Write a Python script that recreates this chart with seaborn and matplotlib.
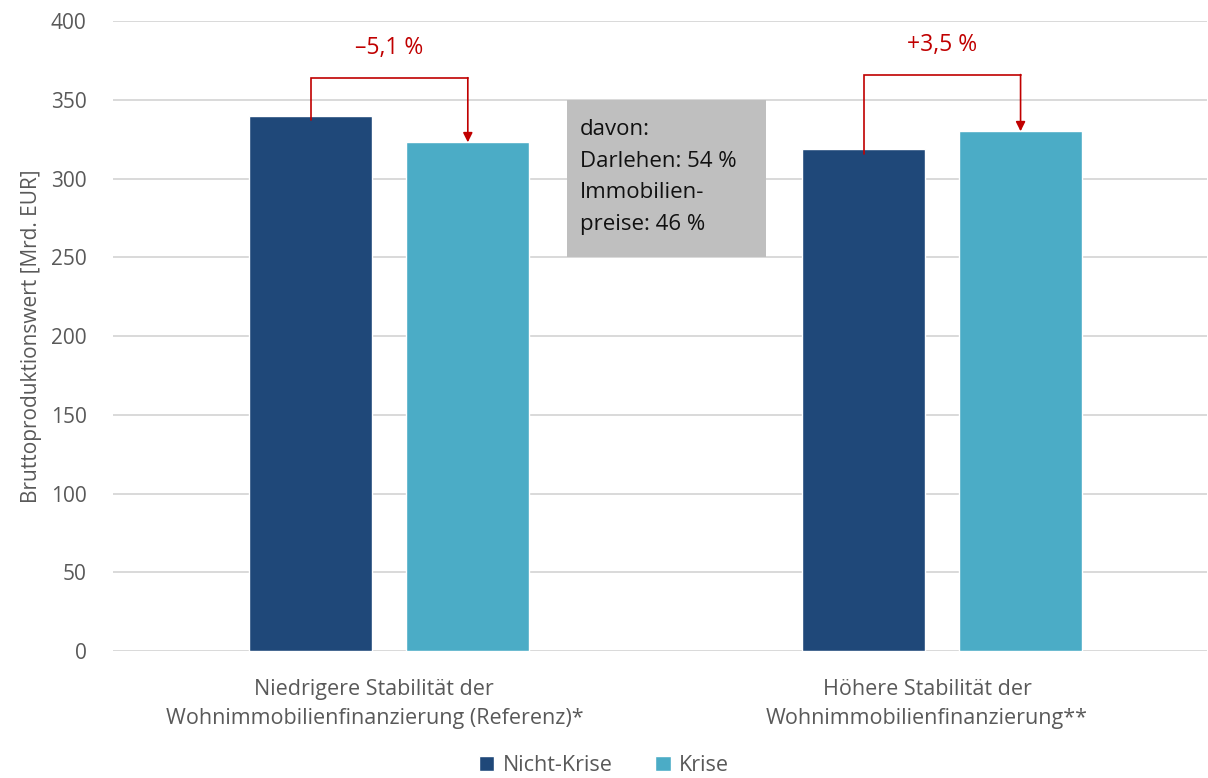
"""Bruttoproduktionswert: Nicht-Krise vs. Krise, grouped bars with change brackets."""
import matplotlib
matplotlib.use("Agg")
import matplotlib.pyplot as plt
import matplotlib.transforms as mtransforms
from matplotlib.patches import Patch, Rectangle
import pandas as pd
import seaborn as sns

# -- Data ----------------------------------------------------------------------
categories = [
    "Niedrigere Stabilität der\nWohnimmobilienfinanzierung (Referenz)*",
    "Höhere Stabilität der\nWohnimmobilienfinanzierung**",
]
series = ["Nicht-Krise", "Krise"]
nicht_krise = [340.0, 318.5]
krise = [323.0, 330.0]
changes = ["–5,1 %", "+3,5 %"]
bracket_top = [364.0, 366.0]
box_lines = ["davon:", "Darlehen: 54 %", "Immobilien-", "preise: 46 %"]

# -- Style ---------------------------------------------------------------------
DARK = "#1f4879"
LIGHT = "#4bacc6"
RED = "#c00000"
GREY_TXT = "#595959"

sns.set_theme(style="white")
plt.rcParams["font.family"] = ["Open Sans", "DejaVu Sans"]

df = pd.DataFrame({
    "Kategorie": categories * 2,
    "Serie": [series[0]] * 2 + [series[1]] * 2,
    "Wert": nicht_krise + krise,
})

fig = plt.figure(figsize=(12.08, 7.78), dpi=100)
ax = fig.add_axes([0.0935, 0.163, 0.906, 0.81])

sns.barplot(data=df, x="Kategorie", y="Wert", hue="Serie", order=categories,
            hue_order=series, palette=[DARK, LIGHT], width=0.568, gap=0.216,
            saturation=1, legend=False, ax=ax)

ax.set_ylim(0, 400)
ax.set_xlim(-0.5, 1.48)
ax.set_yticks(range(0, 401, 50))
ax.yaxis.grid(True, color="#d9d9d9", linewidth=1.4)
ax.set_axisbelow(True)
for s in ax.spines.values():
    s.set_visible(False)
ax.tick_params(axis="y", length=0, labelsize=15, labelcolor=GREY_TXT, pad=19)
ax.tick_params(axis="x", length=0, labelsize=15.5, labelcolor=GREY_TXT, pad=20)
shift = mtransforms.ScaledTranslation(-0.15, 0, fig.dpi_scale_trans)
for lbl in ax.get_xticklabels():
    lbl.set_linespacing(1.5)
    lbl.set_transform(lbl.get_transform() + shift)
ax.set_xlabel("")
ax.set_ylabel("Bruttoproduktionswert [Mrd. EUR]", fontsize=15, color=GREY_TXT, labelpad=6)

# change brackets between the two bars of each group
bars = ax.patches
for i in range(len(categories)):
    b0 = bars[i]
    b1 = bars[len(categories) + i]
    x0 = b0.get_x() + b0.get_width() / 2
    x1 = b1.get_x() + b1.get_width() / 2
    top = bracket_top[i]
    ax.plot([x0, x0, x1], [b0.get_height() - 3, top, top], color=RED, lw=1.2,
            solid_joinstyle="miter")
    ax.annotate("", xy=(x1, b1.get_height()), xytext=(x1, top),
                arrowprops=dict(arrowstyle="-|>", color=RED, lw=1.2,
                                mutation_scale=14, shrinkA=0, shrinkB=0))
    ax.text((x0 + x1) / 2, top + 19, changes[i], color=RED, fontsize=16.5,
            ha="center", va="center")

# grey info box
ax.add_patch(Rectangle((0.322, 250), 0.36, 100, facecolor="#bfbfbf",
                       edgecolor="none", zorder=3))
ax.text(0.345, 338, "\n".join(box_lines), fontsize=16, color="#111111",
        ha="left", va="top", linespacing=1.68, zorder=4)

handles = [Patch(facecolor=DARK, label=series[0]), Patch(facecolor=LIGHT, label=series[1])]
fig.legend(handles=handles, loc="lower center", bbox_to_anchor=(0.5, -0.022), ncol=2,
           frameon=False, fontsize=15.5, handlelength=0.7, handleheight=0.7,
           handletextpad=0.4, columnspacing=2.0, labelcolor=GREY_TXT)

fig.savefig("out.png", dpi=100)
